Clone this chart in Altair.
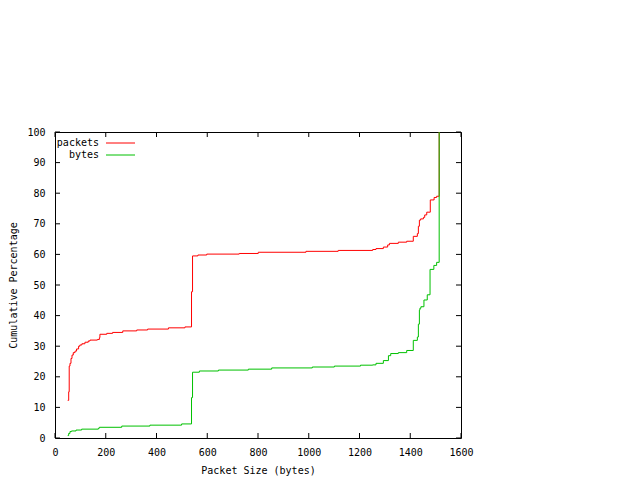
import altair as alt
import pandas as pd

# Cumulative distribution
packets_size = [50, 54, 56, 59, 63, 67, 72, 79, 85, 93,
                98, 106, 118, 131, 138, 167, 175, 177, 204, 227,
                267, 322, 365, 447, 512, 538, 542, 563, 598, 726,
                801, 989, 1116, 1252, 1265, 1294, 1311, 1318, 1353, 1386,
                1412, 1428, 1432, 1436, 1441, 1452, 1457, 1465, 1479, 1494,
                1504, 1514]
packets_pct = [12.3, 15.1, 23.5, 24.4, 26.0, 27.1, 27.9, 28.4, 29.1, 30.0,
               30.4, 30.8, 31.3, 31.7, 32.0, 32.2, 32.8, 33.9, 34.2, 34.5,
               35.0, 35.3, 35.6, 36.0, 36.3, 47.8, 59.5, 59.8, 60.1, 60.3,
               60.7, 61.0, 61.3, 61.6, 61.9, 62.4, 63.1, 63.6, 64.0, 64.3,
               65.9, 66.8, 69.2, 71.2, 71.6, 72.1, 72.9, 73.8, 77.8, 78.6,
               79.0, 100.0]

bytes_size = [50, 54, 59, 65, 83, 105, 171, 175, 263, 374,
              499, 538, 542, 569, 644, 762, 854, 1014, 1101, 1204,
              1252, 1265, 1294, 1314, 1323, 1353, 1386, 1412, 1428, 1432,
              1436, 1438, 1442, 1454, 1467, 1478, 1493, 1504, 1514]
bytes_pct = [0.8, 1.5, 2.1, 2.3, 2.6, 2.9, 3.2, 3.5, 3.9, 4.2,
             4.6, 13.2, 21.5, 21.9, 22.2, 22.5, 22.9, 23.2, 23.5, 23.8,
             23.9, 24.4, 25.3, 26.9, 27.6, 27.9, 28.6, 31.9, 33.0, 37.2,
             41.8, 42.4, 42.9, 45.1, 46.8, 55.1, 56.4, 57.4, 100.0]

x_ticks = [0, 200, 400, 600, 800, 1000, 1200, 1400, 1600]
y_ticks = [0, 10, 20, 30, 40, 50, 60, 70, 80, 90, 100]
series_names = ["packets", "bytes"]
series_colors = ["#ff0000", "#00c000"]

W, H = 406, 306
FONT = "DejaVu Sans Mono"

pk = pd.DataFrame({"size": packets_size, "pct": packets_pct, "series": "packets"})
by = pd.DataFrame({"size": bytes_size, "pct": bytes_pct, "series": "bytes"})
xt = pd.DataFrame({"v": x_ticks})
yt = pd.DataFrame({"v": y_ticks})
leg = pd.DataFrame({"series": series_names})

xscale = alt.Scale(domain=[0, 1600], nice=False)
yscale = alt.Scale(domain=[0, 100], nice=False)
cscale = alt.Scale(domain=series_names, range=series_colors)

xaxis = alt.Axis(values=x_ticks, ticks=False, domain=False, grid=False,
                 format="d", labelFlush=False, labelOverlap=False,
                 labelPadding=9, title="Packet Size (bytes)",
                 titleY=32, titleBaseline="middle")
yaxis = alt.Axis(values=y_ticks, ticks=False, domain=False, grid=False,
                 format="d", labelFlush=False, labelOverlap=False,
                 labelPadding=10, title="Cumulative Percentage",
                 titleX=-39, titleY=H / 2, titleAngle=270,
                 titleBaseline="alphabetic", titleAlign="center")

def line(df):
    return alt.Chart(df).mark_line(interpolate="step-after", strokeWidth=1, clip=True).encode(
        x=alt.X("size:Q", scale=xscale, axis=xaxis),
        y=alt.Y("pct:Q", scale=yscale, axis=yaxis),
        color=alt.Color("series:N", scale=cscale, legend=None),
    )

tick_style = dict(color="black", strokeWidth=1)
xt_bot = alt.Chart(xt).mark_rule(**tick_style).encode(
    x=alt.X("v:Q", scale=xscale, axis=xaxis), y=alt.value(H), y2=alt.value(H - 5))
xt_top = alt.Chart(xt).mark_rule(**tick_style).encode(
    x=alt.X("v:Q", scale=xscale, axis=xaxis), y=alt.value(0), y2=alt.value(5))
yt_left = alt.Chart(yt).mark_rule(**tick_style).encode(
    y=alt.Y("v:Q", scale=yscale, axis=yaxis), x=alt.value(0), x2=alt.value(5))
yt_right = alt.Chart(yt).mark_rule(**tick_style).encode(
    y=alt.Y("v:Q", scale=yscale, axis=yaxis), x=alt.value(W), x2=alt.value(W - 5))

leg_pk = leg[leg.series == "packets"]
leg_by = leg[leg.series == "bytes"]
def legend_items(df, ypos):
    txt = alt.Chart(df).mark_text(align="right", baseline="middle", font=FONT,
                                  fontSize=10, color="black").encode(
        x=alt.value(44), y=alt.value(ypos), text="series:N")
    rule = alt.Chart(df).mark_rule(strokeWidth=1).encode(
        x=alt.value(51), x2=alt.value(80), y=alt.value(ypos),
        color=alt.Color("series:N", scale=cscale, legend=None))
    return txt + rule

chart = alt.layer(
    line(pk), line(by),
    xt_bot, xt_top, yt_left, yt_right,
    legend_items(leg_pk, 11), legend_items(leg_by, 23),
).properties(
    width=W, height=H,
    autosize=alt.AutoSizeParams(type="none"),
    padding={"left": 47, "top": 124, "right": 171, "bottom": 40},
).configure_view(
    stroke="black", strokeWidth=1
).configure_axis(
    labelFont=FONT, labelFontSize=10, labelColor="black",
    titleFont=FONT, titleFontSize=10, titleFontWeight="normal", titleColor="black",
)

chart.save("out.html", embed_options={"renderer": "svg", "actions": False})
